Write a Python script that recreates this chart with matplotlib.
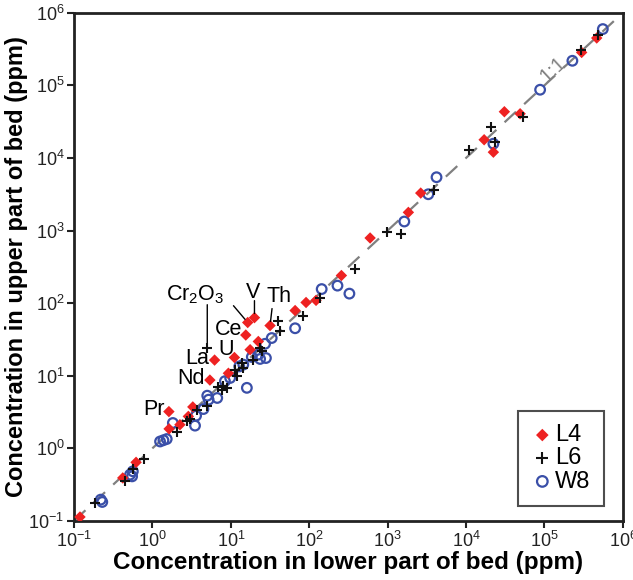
import matplotlib
matplotlib.use("Agg")
import matplotlib.pyplot as plt
import numpy as np

plt.rcParams['font.family'] = ['Liberation Sans', 'DejaVu Sans']

# ---- data (ppm) ----
l4_lower = [0.119, 0.418, 0.618, 1.63, 1.62, 2.24, 2.87, 3.27, 5.4, 6.2, 9.3, 11.1, 17.6, 15.5,
            16.4, 20, 22.4, 31.6, 66, 91, 122, 257, 597, 1837, 2640, 17000, 22300, 30800,
            48900, 298000, 464000]
l4_upper = [0.113, 0.39, 0.64, 1.85, 3.2, 2.11, 2.75, 3.71, 8.7, 16.4, 10.8, 17.8, 22.8, 36.3,
            54, 63, 29.6, 49, 79, 102, 109, 240, 789, 1778, 3280, 17800, 12000, 43300,
            40600, 284000, 449000]

l6_lower = [0.185, 0.447, 0.56, 0.78, 2.04, 2.74, 3.0, 3.67, 4.9, 5.0, 6.9, 7.6, 8.0, 8.9, 11.9,
            11.3, 13.8, 14.2, 19.4, 23.5, 24.8, 40, 42.5, 84, 137, 384, 973, 1480, 3910,
            11000, 20600, 23400, 53800, 290000, 488000]
l6_upper = [0.176, 0.35, 0.51, 0.71, 1.66, 2.34, 2.5, 3.4, 3.8, 23.7, 7.0, 6.3, 7.1, 6.8, 9.8,
            12.1, 15, 12.8, 16.6, 24.1, 21.6, 56, 40.7, 67, 117, 295, 953, 904, 3560,
            12700, 26900, 16400, 36600, 303000, 498000]

w8_lower = [0.219, 0.229, 0.518, 0.562, 0.55, 1.25, 1.38, 1.52, 1.82, 3.49, 3.6, 4.47, 5.0, 5.2,
            6.7, 9.8, 8.4, 16, 12.8, 14.4, 18.5, 23.6, 28, 22.4, 27.3, 33.2, 66, 144, 229, 325,
            1630, 3300, 4200, 22300, 88000, 227000, 555000]
w8_upper = [0.196, 0.182, 0.433, 0.481, 0.41, 1.24, 1.29, 1.34, 2.23, 2.05, 2.81, 3.47, 5.3, 4.67,
            4.93, 9.3, 8.4, 6.8, 13.4, 14.2, 18.1, 17, 17.5, 19.5, 27.5, 33, 45, 156, 174, 135,
            1330, 3160, 5420, 15700, 87000, 218000, 596000]

series_names = ['L4', 'L6', 'W8']

label_names = ['Cr$_2$O$_3$', 'V', 'Th', 'Ce', 'U', 'La', 'Nd', 'Pr']

axis_ticks = [0.1, 1, 10, 100, 1e3, 1e4, 1e5, 1e6]
tick_labels = ['10$^{-1}$', '10$^{0}$', '10$^{1}$', '10$^{2}$', '10$^{3}$', '10$^{4}$', '10$^{5}$', '10$^{6}$']

plt.rcParams['mathtext.fontset'] = 'custom'
plt.rcParams['mathtext.rm'] = 'Liberation Sans'
plt.rcParams['mathtext.it'] = 'Liberation Sans'
plt.rcParams['mathtext.bf'] = 'Liberation Sans:bold'

fig = plt.figure(figsize=(6.33, 5.80), dpi=100)
ax = fig.add_axes([0.117, 0.102, 0.867, 0.876])
ax.set_xscale('log')
ax.set_yscale('log')
ax.set_xlim(0.1, 1e6)
ax.set_ylim(0.1, 1e6)

# 1:1 line
ax.plot([0.1, 1e6], [0.1, 1e6], color='#808080', lw=1.6, ls=(0, (7, 5)), zorder=1)
ax.text(1.3e5, 1.65e5, '1:1', color='#808080', fontsize=14.5, rotation=42.8,
        ha='center', va='center', zorder=1)

ax.scatter(l4_lower, l4_upper, marker='D', s=34, color='#ee2222', edgecolors='none',
           zorder=3, label=series_names[0])
ax.scatter(l6_lower, l6_upper, marker='+', s=60, color='#111111', linewidths=1.5,
           zorder=4, label=series_names[1])
ax.scatter(w8_lower, w8_upper, marker='o', s=48, facecolors='none', edgecolors='#3a4fa8',
           linewidths=1.6, zorder=2, label=series_names[2])

# annotations
tfs = 15.5
ax.text(3.5, 131, label_names[0], fontsize=tfs, ha='center', va='center')
ax.text(19.2, 142, label_names[1], fontsize=tfs, ha='center', va='center')
ax.text(41, 122, label_names[2], fontsize=tfs, ha='center', va='center')
ax.text(9.3, 43, label_names[3], fontsize=tfs, ha='center', va='center')
ax.text(8.7, 22.8, label_names[4], fontsize=tfs, ha='center', va='center')
ax.text(3.7, 17.0, label_names[5], fontsize=tfs, ha='center', va='center')
ax.text(3.1, 9.2, label_names[6], fontsize=tfs, ha='center', va='center')
ax.text(1.05, 3.4, label_names[7], fontsize=tfs, ha='center', va='center')

lp = dict(arrowstyle='-', color='black', lw=1.0, shrinkA=0, shrinkB=3)
ax.annotate('', xy=(l6_lower[9], l6_upper[9]), xytext=(l6_lower[9], 95), arrowprops=lp)
ax.annotate('', xy=(l4_lower[14], l4_upper[14]), xytext=(10.8, 92), arrowprops=lp)
ax.annotate('', xy=(l4_lower[15], l4_upper[15]), xytext=(l4_lower[15], 108), arrowprops=lp)
ax.annotate('', xy=(l4_lower[17], l4_upper[17]), xytext=(33.5, 84), arrowprops=lp)

ax.set_xticks(axis_ticks)
ax.set_xticklabels(tick_labels)
ax.set_yticks(axis_ticks)
ax.set_yticklabels(tick_labels)
ax.minorticks_off()
ax.tick_params(axis='both', which='major', direction='out', length=5, width=1.5,
               labelsize=13, colors='#222222', pad=2)
for sp in ax.spines.values():
    sp.set_linewidth(2)
    sp.set_color('#222222')

ax.set_xlabel('Concentration in lower part of bed (ppm)', fontsize=17.5, fontweight='bold', labelpad=0)
ax.set_ylabel('Concentration in upper part of bed (ppm)', fontsize=17, fontweight='bold', labelpad=0)

leg = ax.legend(loc='lower right', bbox_to_anchor=(0.965, 0.03), fontsize=17, frameon=True,
                fancybox=False, edgecolor='#222222', handletextpad=0.05, handlelength=1.0,
                borderpad=0.55, labelspacing=0.05, scatterpoints=1, borderaxespad=0,
                markerscale=1.1)
leg.get_frame().set_linewidth(1.5)

fig.savefig('out.png', dpi=100)
